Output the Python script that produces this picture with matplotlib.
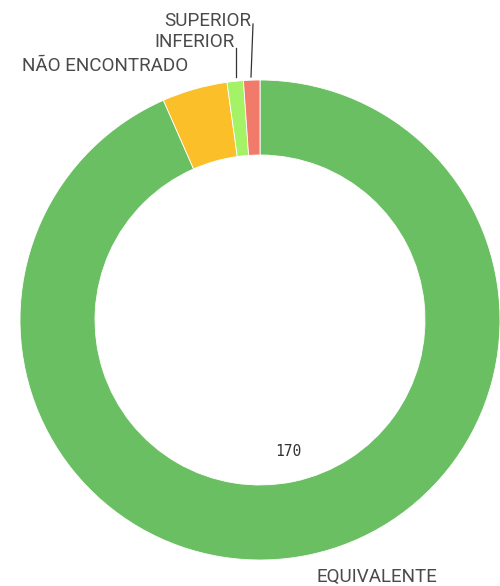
import matplotlib
matplotlib.use("Agg")
import matplotlib.pyplot as plt

categories = ["EQUIVALENTE", "NÃO ENCONTRADO", "INFERIOR", "SUPERIOR"]
values = [170, 8, 2, 2]
colors = ["#6bbf63", "#fbbf29", "#a4f266", "#f27a6b"]

W, H = 500, 586
fig = plt.figure(figsize=(W / 100, H / 100), dpi=100)
ax = fig.add_axes([0, 0, 1, 1])

cx, cy, r = 260, H - 320, 240
ax.pie(values, colors=colors, startangle=90, counterclock=False,
       center=(cx, cy), radius=r, frame=True,
       wedgeprops=dict(width=r * 0.3125, edgecolor="white", linewidth=0.6))
ax.set_xlim(0, W)
ax.set_ylim(0, H)
ax.set_aspect("equal")
ax.axis("off")

# outside labels
txt = dict(color="#4a4a4a", fontsize=13.6, family="Roboto")
ax.text(316, H - 577, categories[0], ha="left", va="center", **txt)
ax.text(188, H - 66, categories[1], ha="right", va="center", **txt)
ax.text(235, H - 42, categories[2], ha="right", va="center", **txt)
ax.text(251, H - 21, categories[3], ha="right", va="center", **txt)

# leader lines
ax.plot([236, 236], [H - 77, H - 48], color="#333333", lw=0.9)
ax.plot([251, 253], [H - 77, H - 24], color="#333333", lw=0.9)

ax.text(288, H - 452, str(values[0]), ha="center", va="center",
        family="DejaVu Sans Mono", fontsize=10.5, color="#333333")

fig.savefig("out.png", dpi=100)
